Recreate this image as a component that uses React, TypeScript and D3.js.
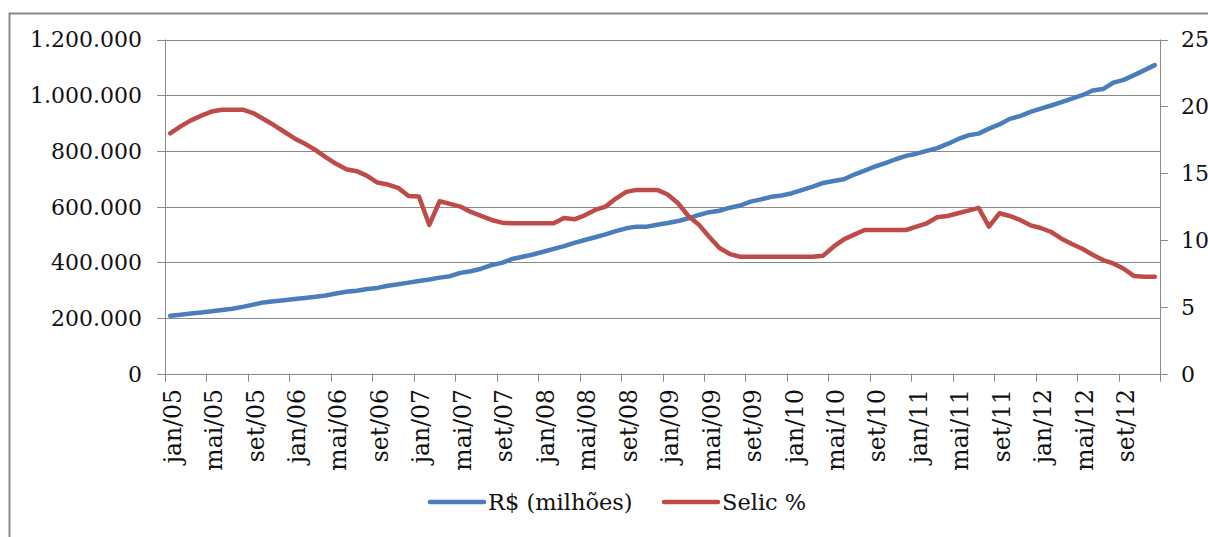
import React, { useRef, useEffect } from 'react';
import * as d3 from 'd3';

// month names (pt-BR) and years shown on the category axis
const monthNames = ['jan', 'fev', 'mar', 'abr', 'mai', 'jun', 'jul', 'ago', 'set', 'out', 'nov', 'dez'];
const years = ['05', '06', '07', '08', '09', '10', '11', '12'];

// R$ (milhões), in thousands, jan/05 .. dez/12
const reais = [
  208, 212, 216, 220, 224, 229, 233, 240, 248, 256, 260, 264,
  268, 272, 276, 281, 288, 294, 298, 304, 308, 316, 321, 327,
  333, 338, 345, 350, 362, 368, 377, 390, 398, 412, 420, 428,
  438, 448, 458, 470, 480, 490, 500, 512, 522, 528, 528, 535,
  541, 548, 558, 570, 580, 585, 596, 604, 618, 626, 635, 640,
  648, 660, 672, 685, 692, 698, 715, 729, 744, 756, 770, 782,
  790, 800, 810, 825, 842, 856, 862, 880, 895, 915, 925, 940,
  952, 963, 975, 988, 1000, 1017, 1022, 1045, 1055, 1072, 1090, 1108,
];

// Selic %
const selic = [
  17.98, 18.5, 18.95, 19.3, 19.61, 19.75, 19.75, 19.75, 19.5, 19.05, 18.6, 18.1,
  17.6, 17.2, 16.74, 16.2, 15.7, 15.3, 15.15, 14.8, 14.3, 14.15, 13.9, 13.3,
  13.25, 11.13, 12.9, 12.7, 12.5, 12.1, 11.8, 11.5, 11.3, 11.25, 11.25, 11.25,
  11.25, 11.25, 11.65, 11.55, 11.85, 12.25, 12.5, 13.1, 13.6, 13.75, 13.75, 13.75,
  13.4, 12.75, 11.8, 11.15, 10.25, 9.4, 8.95, 8.75, 8.75, 8.75, 8.75, 8.75,
  8.75, 8.75, 8.75, 8.83, 9.5, 10.05, 10.4, 10.75, 10.75, 10.75, 10.75, 10.75,
  11.0, 11.25, 11.7, 11.8, 12.0, 12.2, 12.4, 11.0, 12.0, 11.8, 11.5, 11.1,
  10.9, 10.6, 10.1, 9.7, 9.35, 8.9, 8.5, 8.25, 7.85, 7.3, 7.25, 7.25,
];

const leftTicks = [0, 200000, 400000, 600000, 800000, 1000000, 1200000];
const rightTicks = [0, 5, 10, 15, 20, 25];

const seriesNames = ['R$ (milhões)', 'Selic %'];
const seriesColors = ['#4a7ebb', '#be4b48'];

const months = years.flatMap(y => monthNames.map(m => `${m}/${y}`));

const App = () => {
  const svgRef = useRef<SVGSVGElement>(null);

  useEffect(() => {
    const w = 1208;
    const h = 537;
    const left = 165, right = 1160, top = 39.5, bottom = 373.7;
    const font = '"DejaVu Serif", serif';
    const fs = 22;
    const gray = '#898989';

    const svg = d3.select(svgRef.current)
      .attr('width', w)
      .attr('height', h);
    svg.selectAll('*').remove();

    // chart area border
    svg.append('rect')
      .attr('x', 9.5).attr('y', 13.5)
      .attr('width', 1300).attr('height', 700)
      .attr('fill', 'white')
      .attr('stroke', gray)
      .attr('stroke-width', 2);

    const x = d3.scaleBand()
      .domain(months)
      .range([left, right])
      .paddingInner(0)
      .paddingOuter(0);

    const yL = d3.scaleLinear().domain([0, 1200000]).range([bottom, top]);
    const yR = d3.scaleLinear().domain([0, 25]).range([bottom, top]);

    // gridlines
    svg.append('g')
      .selectAll('line')
      .data(leftTicks)
      .join('line')
      .attr('x1', left).attr('x2', right)
      .attr('y1', d => Math.round(yL(d)) + 0.5)
      .attr('y2', d => Math.round(yL(d)) + 0.5)
      .attr('stroke', gray)
      .attr('stroke-width', 1);

    // left axis
    const fmt = (v: number) => d3.format(',')(v).replace(/,/g, '.');
    const gl = svg.append('g');
    gl.append('line')
      .attr('x1', left + 0.5).attr('x2', left + 0.5)
      .attr('y1', top).attr('y2', bottom + 8)
      .attr('stroke', gray);
    gl.selectAll('line.t')
      .data(leftTicks)
      .join('line')
      .attr('class', 't')
      .attr('x1', left - 8).attr('x2', left)
      .attr('y1', d => Math.round(yL(d)) + 0.5)
      .attr('y2', d => Math.round(yL(d)) + 0.5)
      .attr('stroke', gray);
    gl.selectAll('text')
      .data(leftTicks)
      .join('text')
      .attr('x', 142)
      .attr('y', d => yL(d))
      .attr('dy', '0.36em')
      .attr('text-anchor', 'end')
      .style('font-family', font)
      .style('font-size', `${fs}px`)
      .attr('fill', '#111')
      .text(d => fmt(d));

    // right axis
    const gr = svg.append('g');
    gr.append('line')
      .attr('x1', right + 0.5).attr('x2', right + 0.5)
      .attr('y1', top).attr('y2', bottom + 8)
      .attr('stroke', gray);
    gr.selectAll('line.t')
      .data(rightTicks)
      .join('line')
      .attr('class', 't')
      .attr('x1', right).attr('x2', right + 8)
      .attr('y1', d => Math.round(yR(d)) + 0.5)
      .attr('y2', d => Math.round(yR(d)) + 0.5)
      .attr('stroke', gray);
    gr.selectAll('text')
      .data(rightTicks)
      .join('text')
      .attr('x', 1181)
      .attr('y', d => yR(d))
      .attr('dy', '0.36em')
      .style('font-family', font)
      .style('font-size', `${fs}px`)
      .attr('fill', '#111')
      .text(d => d);

    // bottom axis
    const gb = svg.append('g');
    gb.append('line')
      .attr('x1', left - 8).attr('x2', right + 8)
      .attr('y1', Math.round(bottom) + 0.5).attr('y2', Math.round(bottom) + 0.5)
      .attr('stroke', gray);
    const tickMonths = months.filter((m, i) => i % 4 === 0);
    gb.selectAll('line.t')
      .data(tickMonths)
      .join('line')
      .attr('class', 't')
      .attr('x1', d => Math.round(x(d)!) + 0.5)
      .attr('x2', d => Math.round(x(d)!) + 0.5)
      .attr('y1', bottom).attr('y2', bottom + 8)
      .attr('stroke', gray);
    gb.selectAll('text')
      .data(tickMonths)
      .join('text')
      .attr('transform', d => `translate(${x(d)! + x.bandwidth() / 2 + 2},389) rotate(-90)`)
      .attr('dy', '0.36em')
      .attr('text-anchor', 'end')
      .style('font-family', font)
      .style('font-size', '23.5px')
      .attr('fill', '#111')
      .text(d => d);

    // series lines
    const cx = (i: number) => x(months[i])! + x.bandwidth() / 2;
    const lineL = d3.line<number>().x((d, i) => cx(i)).y(d => yL(d * 1000));
    const lineR = d3.line<number>().x((d, i) => cx(i)).y(d => yR(d));

    svg.append('path')
      .datum(reais)
      .attr('d', lineL)
      .attr('fill', 'none')
      .attr('stroke', seriesColors[0])
      .attr('stroke-width', 4.5)
      .attr('stroke-linejoin', 'round')
      .attr('stroke-linecap', 'round');

    svg.append('path')
      .datum(selic)
      .attr('d', lineR)
      .attr('fill', 'none')
      .attr('stroke', seriesColors[1])
      .attr('stroke-width', 4.5)
      .attr('stroke-linejoin', 'round')
      .attr('stroke-linecap', 'round');

    // legend
    const legendX = [430, 664];
    const lg = svg.append('g');
    seriesNames.forEach((name, i) => {
      lg.append('line')
        .attr('x1', legendX[i]).attr('x2', legendX[i] + 54)
        .attr('y1', 502).attr('y2', 502)
        .attr('stroke', seriesColors[i])
        .attr('stroke-width', 4.5)
        .attr('stroke-linecap', 'round');
      lg.append('text')
        .attr('x', legendX[i] + 58)
        .attr('y', 502)
        .attr('dy', '0.36em')
        .style('font-family', font)
        .style('font-size', '22.5px')
        .attr('fill', '#111')
        .text(name);
    });
  }, []);

  return (
    <div style={{ position: 'absolute', left: 0, top: 0 }}>
      <svg ref={svgRef} style={{ display: 'block' }}></svg>
    </div>
  );
};

export default App;
